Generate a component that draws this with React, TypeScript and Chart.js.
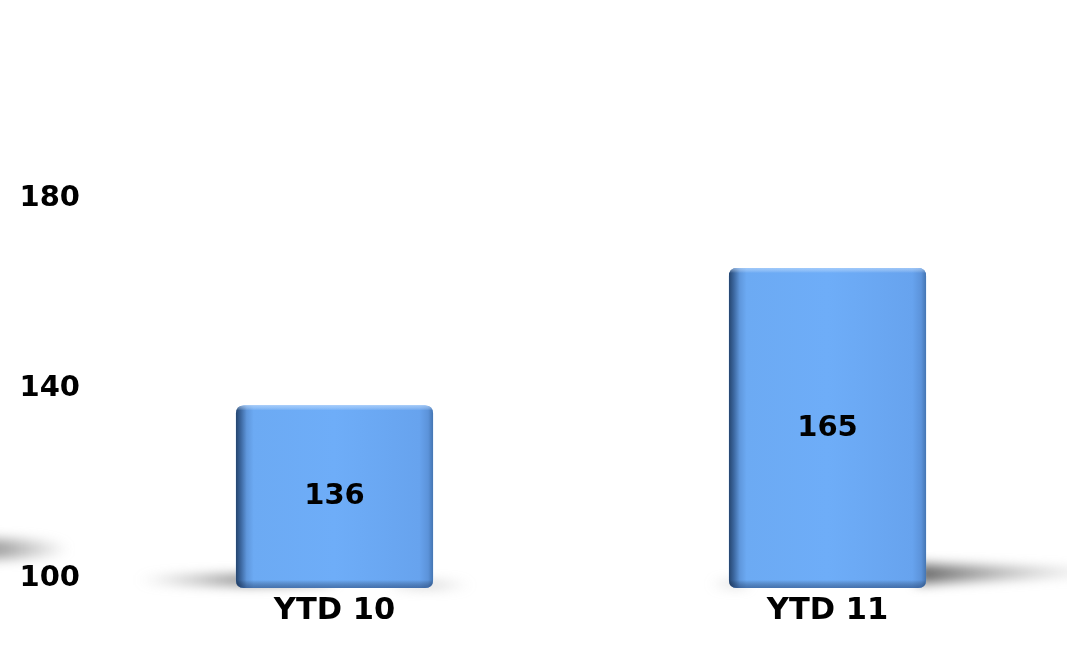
import React, { useEffect, useRef } from "react";
import { Chart, registerables } from "chart.js";

Chart.register(...registerables);

const categories = ["YTD 10", "YTD 11"];
const values = [136, 165];
const yTicks = [100, 140, 180];
const yMin = 97.5;
const yMax = 200;

const FONT = "'DejaVu Sans', Verdana, sans-serif";

function roundRectPath(ctx: CanvasRenderingContext2D, l: number, t: number, r: number, b: number, rad: number) {
  ctx.beginPath();
  ctx.moveTo(l + rad, t);
  ctx.lineTo(r - rad, t);
  ctx.quadraticCurveTo(r, t, r, t + rad);
  ctx.lineTo(r, b - rad);
  ctx.quadraticCurveTo(r, b, r - rad, b);
  ctx.lineTo(l + rad, b);
  ctx.quadraticCurveTo(l, b, l, b - rad);
  ctx.lineTo(l, t + rad);
  ctx.quadraticCurveTo(l, t, l + rad, t);
  ctx.closePath();
}

const decoPlugin = {
  id: "deco",
  beforeDatasetsDraw(chart: any) {
    const ctx: CanvasRenderingContext2D = chart.ctx;
    const meta = chart.getDatasetMeta(0);
    ctx.save();
    ctx.filter = "blur(6px)";
    let g = ctx.createLinearGradient(0, 0, 70, 0);
    g.addColorStop(0, "rgba(140,140,140,0.8)");
    g.addColorStop(1, "rgba(140,140,140,0)");
    ctx.fillStyle = g;
    ctx.beginPath();
    ctx.ellipse(-10, 549, 80, 10, 0, 0, Math.PI * 2);
    ctx.fill();
    meta.data.forEach((bar: any, i: number) => {
      const left = bar.x - bar.width / 2;
      const right = bar.x + bar.width / 2;
      const base = bar.base;
      if (i === 0) {
        g = ctx.createLinearGradient(left - 100, 0, left + 10, 0);
        g.addColorStop(0, "rgba(130,130,130,0)");
        g.addColorStop(1, "rgba(110,110,110,0.9)");
        ctx.fillStyle = g;
        ctx.beginPath();
        ctx.ellipse(left, base - 8, 100, 5, 0, 0, Math.PI * 2);
        ctx.fill();
        g = ctx.createLinearGradient(right, 0, right + 40, 0);
        g.addColorStop(0, "rgba(150,150,150,0.5)");
        g.addColorStop(1, "rgba(150,150,150,0)");
        ctx.fillStyle = g;
        ctx.beginPath();
        ctx.ellipse(right, base - 3, 40, 3, 0, 0, Math.PI * 2);
        ctx.fill();
      } else {
        g = ctx.createLinearGradient(right, 0, right + 160, 0);
        g.addColorStop(0, "rgba(100,100,100,0.95)");
        g.addColorStop(1, "rgba(150,150,150,0.15)");
        ctx.fillStyle = g;
        ctx.beginPath();
        ctx.moveTo(right - 10, base - 24);
        ctx.lineTo(right + 160, base - 19);
        ctx.lineTo(right + 160, base - 13);
        ctx.lineTo(right - 10, base - 4);
        ctx.closePath();
        ctx.fill();
        g = ctx.createLinearGradient(left - 20, 0, left + 10, 0);
        g.addColorStop(0, "rgba(150,150,150,0)");
        g.addColorStop(1, "rgba(150,150,150,0.5)");
        ctx.fillStyle = g;
        ctx.beginPath();
        ctx.ellipse(left, base - 4, 20, 3, 0, 0, Math.PI * 2);
        ctx.fill();
      }
    });
    ctx.restore();
  },
  afterDatasetsDraw(chart: any) {
    const ctx: CanvasRenderingContext2D = chart.ctx;
    const meta = chart.getDatasetMeta(0);
    meta.data.forEach((bar: any, i: number) => {
      const left = bar.x - bar.width / 2;
      const right = bar.x + bar.width / 2;
      const top = bar.y;
      const bottom = bar.base;
      ctx.save();
      roundRectPath(ctx, left, top, right, bottom, 8);
      ctx.clip();
      const g = ctx.createLinearGradient(left, 0, right, 0);
      g.addColorStop(0, "#25456f");
      g.addColorStop(0.025, "#3c679f");
      g.addColorStop(0.055, "#5f97dc");
      g.addColorStop(0.09, "#6caaf3");
      g.addColorStop(0.5, "#6eadf8");
      g.addColorStop(0.93, "#67a3ee");
      g.addColorStop(0.975, "#5c93da");
      g.addColorStop(1, "#4475b2");
      ctx.fillStyle = g;
      ctx.fillRect(left, top, right - left, bottom - top);
      const gv = ctx.createLinearGradient(0, top, 0, bottom);
      const h = bottom - top;
      gv.addColorStop(0, "rgba(200,225,255,0.55)");
      gv.addColorStop(Math.min(0.5, 5 / h), "rgba(255,255,255,0.0)");
      gv.addColorStop(Math.max(0.5, 1 - 8 / h), "rgba(0,0,0,0.0)");
      gv.addColorStop(1, "rgba(20,45,90,0.45)");
      ctx.fillStyle = gv;
      ctx.fillRect(left, top, right - left, bottom - top);
      ctx.restore();
      ctx.save();
      ctx.fillStyle = "#000";
      ctx.font = `bold 29px ${FONT}`;
      ctx.textAlign = "center";
      ctx.textBaseline = "middle";
      ctx.fillText(String(values[i]), bar.x, (top + bottom) / 2);
      ctx.restore();
    });
  },
};

export default function App() {
  const ref = useRef<HTMLCanvasElement | null>(null);
  useEffect(() => {
    document.body.style.margin = "0";
    document.body.style.overflow = "hidden";
    const chart = new Chart(ref.current!, {
      type: "bar",
      data: {
        labels: categories,
        datasets: [
          {
            data: values,
            base: yMin,
            backgroundColor: "#6caaf3",
            borderWidth: 0,
            borderRadius: 8,
            borderSkipped: false,
            barPercentage: 0.8,
            categoryPercentage: 0.5,
          },
        ],
      },
      options: {
        animation: false,
        responsive: false,
        maintainAspectRatio: false,
        layout: { padding: { top: 102, right: 0, bottom: 10.4, left: 0 } },
        plugins: {
          legend: { display: false },
          tooltip: { enabled: false },
        },
        scales: {
          x: {
            grid: { display: false, drawTicks: false },
            border: { display: false },
            ticks: {
              color: "#000",
              padding: 5,
              font: { family: FONT, size: 30.5, weight: "bold" },
            },
          },
          y: {
            min: yMin,
            max: yMax,
            afterBuildTicks: (scale: any) => {
              scale.ticks = yTicks.map((v) => ({ value: v }));
            },
            afterFit: (scale: any) => {
              scale.width = 88;
            },
            grid: { display: false, drawTicks: false },
            border: { display: false },
            ticks: {
              color: "#000",
              padding: 8,
              labelOffset: 2,
              font: { family: FONT, size: 29, weight: "bold" },
            },
          },
        },
      },
      plugins: [decoPlugin],
    });
    return () => chart.destroy();
  }, []);
  return (
    <div style={{ width: 1067, height: 645, overflow: "hidden", background: "#fff" }}>
      <canvas ref={ref} width={1074} height={645} style={{ display: "block" }} />
    </div>
  );
}
